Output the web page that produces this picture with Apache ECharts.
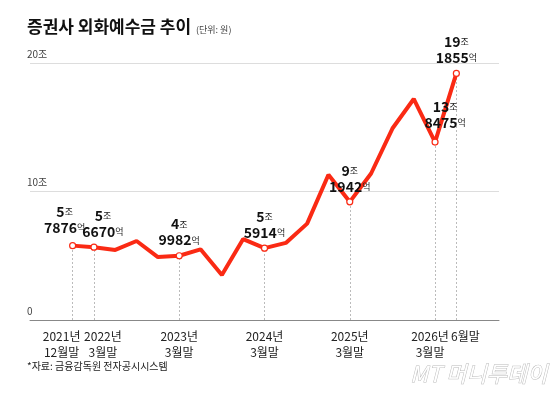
<!DOCTYPE html>
<html>
<head>
<meta charset="utf-8">
<script src="https://cdn.jsdelivr.net/npm/echarts@6/dist/echarts.min.js"></script>
<style>
  html, body { margin: 0; padding: 0; background: #fff; }
  #chart { width: 560px; height: 400px; }
</style>
</head>
<body>
<div id="chart"></div>
<script>
// 분기별 외화예수금 (조원), 2021.12 ~ 2026.6
var values = [5.7876, 5.667, 5.45, 6.15, 4.9, 4.9982, 5.5, 3.5, 6.3, 5.5914, 6.0, 7.5,
  11.3, 9.1942, 11.4, 14.9, 17.2, 13.8475, 19.1855];
// 라벨 붙는 지점
var markIdx = [0, 1, 5, 9, 13, 17, 18];
var markText = ['5조|7876억', '5조|6670억', '4조|9982억', '5조|5914억', '9조|1942억', '13조|8475억', '19조|1855억'];
var xLabels = { 0: '2021년\n12월말', 1: '2022년\n3월말', 5: '2023년\n3월말', 9: '2024년\n3월말',
  13: '2025년\n3월말', 17: '2026년\n3월말', 18: '6월말' };
var FONT = '"Noto Sans CJK KR", sans-serif';
var RED = '#fa2a14';

var labelOffset = { 0: [-8, -2], 1: [9, 0], 17: [10, -4] };
// x축 라벨 좌우 이동용 스타일
var xShift = { 0: 'l', 1: 'r', 17: 'ls', 18: 'r' };

var seriesData = values.map(function (v, i) {
  var k = markIdx.indexOf(i);
  if (k < 0) return { value: [i, v], symbol: 'none' };
  var parts = markText[k].split('|');
  var a = parts[0].replace('조', ''), b = parts[1].replace('억', '');
  return {
    value: [i, v],
    symbol: 'circle',
    symbolSize: 6,
    itemStyle: { color: '#fff', borderColor: RED, borderWidth: 1.2 },
    label: {
      show: true,
      position: 'top',
      distance: 4,
      offset: labelOffset[i] || [0, 0],
      lineHeight: 16,
      formatter: '{n|' + a + '}{u|조}\n{n|' + b + '}{u|억}',
      rich: {
        n: { fontFamily: FONT, fontSize: 14, fontWeight: 'bold', color: '#111', letterSpacing: -1 },
        u: { fontFamily: FONT, fontSize: 9, color: '#222' }
      }
    }
  };
});

var vLines = markIdx.map(function (i) {
  return [{ coord: [i, 0] }, { coord: [i, values[i]] }];
});

var xRich = {
  base: { fontFamily: FONT, fontSize: 12, color: '#222', lineHeight: 16 },
  l: { fontFamily: FONT, fontSize: 12, color: '#222', lineHeight: 16, padding: [0, 22, 0, 0] },
  ls: { fontFamily: FONT, fontSize: 12, color: '#222', lineHeight: 16, padding: [0, 10, 0, 0] },
  r: { fontFamily: FONT, fontSize: 12, color: '#222', lineHeight: 16, padding: [0, 0, 0, 18] }
};

var chart = echarts.init(document.getElementById('chart'));
chart.setOption({
  animation: false,
  graphic: [
    { type: 'text', left: 27, top: 18, style: { text: '증권사 외화예수금 추이', font: 'bold 17px "Noto Sans CJK KR"', fill: '#111' } },
    { type: 'text', left: 196, top: 25, style: { text: '(단위: 원)', font: '9px "Noto Sans CJK KR"', fill: '#444' } },
    { type: 'text', left: 27, top: 361, style: { text: '*자료: 금융감독원 전자공시시스템', font: '10px "Noto Sans CJK KR"', fill: '#222' } },
    { type: 'text', right: 12, top: 362, style: { text: 'MT 머니투데이', font: 'italic 22px "Noto Sans CJK KR"', fill: '#fff', stroke: '#bbb', lineWidth: 1 } }
  ],
  grid: { left: 30, right: 61, top: 63, bottom: 80 },
  xAxis: {
    type: 'value', min: -2, max: 20, interval: 1,
    axisLine: { show: true, lineStyle: { color: '#888', width: 1 } },
    axisTick: { show: false },
    splitLine: { show: false },
    axisLabel: {
      margin: 8, lineHeight: 16, fontFamily: FONT, fontSize: 12, color: '#222',
      rich: xRich,
      formatter: function (v) {
        if (!xLabels[v]) return '';
        var s = xShift[v] || 'base';
        return xLabels[v].split('\n').map(function (t) { return '{' + s + '|' + t + '}'; }).join('\n');
      }
    }
  },
  yAxis: {
    type: 'value', min: 0, max: 20, interval: 10,
    axisLine: { show: false }, axisTick: { show: false },
    splitLine: { lineStyle: { color: '#ddd', width: 1 } },
    axisLabel: {
      inside: true, margin: -3, verticalAlign: 'bottom', padding: [0, 0, 4, 0],
      fontFamily: FONT, fontSize: 10, color: '#444',
      formatter: function (v) { return v === 0 ? '0' : v + '조'; }
    }
  },
  series: [{
    type: 'line',
    data: seriesData,
    lineStyle: { color: RED, width: 4 },
    itemStyle: { color: RED },
    z: 3,
    markLine: {
      silent: true, symbol: 'none', label: { show: false },
      lineStyle: { color: '#bbb', type: [2, 2], width: 1 },
      data: vLines, z: 1
    }
  }]
});
</script>
</body>
</html>
